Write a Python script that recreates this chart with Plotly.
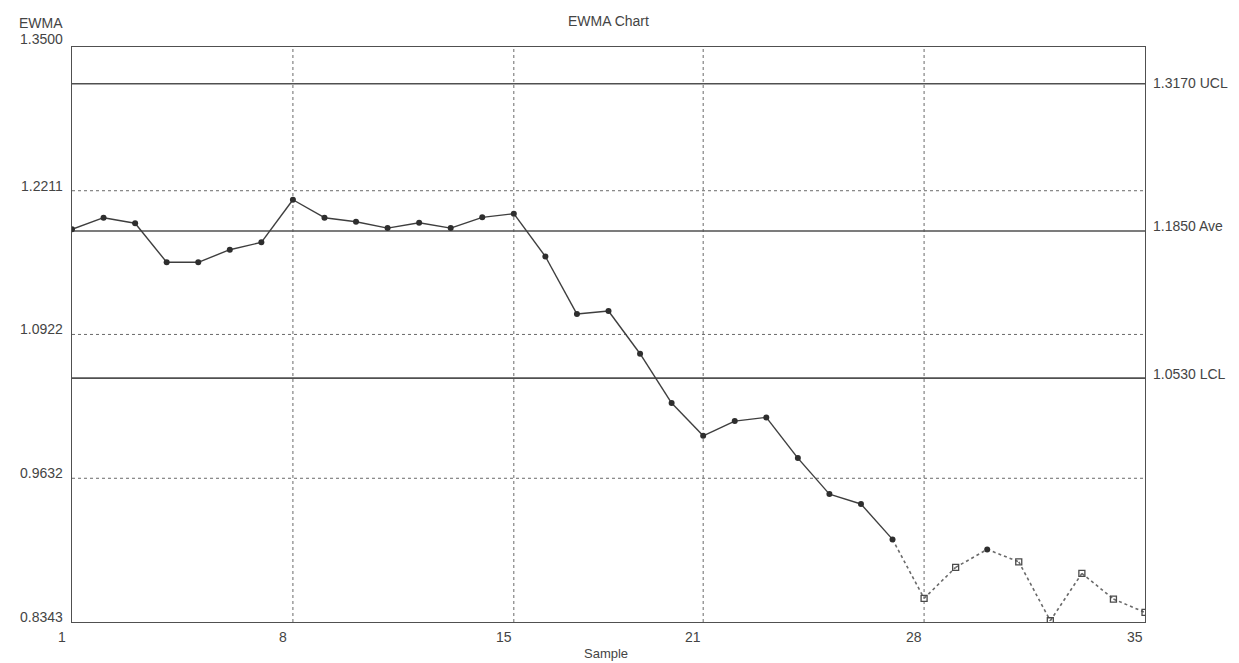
import plotly.graph_objects as go
import numpy as np

samples = list(range(1, 36))
ewma = [1.1865, 1.1969, 1.1919, 1.1569, 1.1569, 1.1682, 1.1748, 1.2130, 1.1969, 1.1933,
        1.1876, 1.1924, 1.1876, 1.1972, 1.2005, 1.1621, 1.1105, 1.1132, 1.0749, 1.0307,
        1.0013, 1.0145, 1.0178, 0.9813, 0.9490, 0.9401, 0.9084, 0.8555, 0.8833, 0.8994,
        0.8883, 0.8354, 0.8779, 0.8549, 0.8429]
# True = point drawn as an open square
open_pt = [False]*27 + [True, True, False, True, True, True, True, True]

ucl, ave, lcl = 1.3170, 1.1850, 1.0530
y_min, y_max = 0.8343, 1.3500
y_ticks = [1.3500, 1.2211, 1.0922, 0.9632, 0.8343]
y_grid = [1.2211, 1.0922, 0.9632]
x_ticks = [1, 8, 15, 21, 28, 35]
x_grid = [8, 15, 21, 28]
limit_lines = [(ucl, "1.3170 UCL"), (ave, "1.1850 Ave"), (lcl, "1.0530 LCL")]
limit_label_shift = [1, 5, 4]

LINE = "#3e3e3e"
TXT = "#444444"
FONT = "Liberation Sans, Arial, sans-serif"
FS = 14

x = np.array(samples, dtype=float)
y = np.array(ewma, dtype=float)
op = np.array(open_pt)

solid_x, solid_y, dot_x, dot_y = [], [], [], []
for i in range(len(x) - 1):
    if (not op[i]) and (not op[i + 1]):
        solid_x += [x[i], x[i + 1], None]
        solid_y += [y[i], y[i + 1], None]
    else:
        dot_x += [x[i], x[i + 1], None]
        dot_y += [y[i], y[i + 1], None]

fig = go.Figure()
fig.add_trace(go.Scatter(x=solid_x, y=solid_y, mode="lines",
                         line=dict(color=LINE, width=1.4), hoverinfo="skip"))
fig.add_trace(go.Scatter(x=dot_x, y=dot_y, mode="lines",
                         line=dict(color="#6a6a6a", width=1.6, dash="dot"), hoverinfo="skip"))
fig.add_trace(go.Scatter(x=x[~op], y=y[~op], mode="markers",
                         marker=dict(symbol="circle", size=6, color="#2e2e2e")))
fig.add_trace(go.Scatter(x=x[op], y=y[op], mode="markers",
                         marker=dict(symbol="square-open", size=6, color="#4a4a4a",
                                     line=dict(width=1.3))))

shapes = []
for gy in y_grid:
    shapes.append(dict(type="line", xref="paper", x0=0, x1=1, yref="y", y0=gy, y1=gy,
                       line=dict(color="#6a6a6a", width=1, dash="dot"), layer="below"))
for gx in x_grid:
    shapes.append(dict(type="line", yref="paper", y0=0, y1=1, xref="x", x0=gx, x1=gx,
                       line=dict(color="#6a6a6a", width=1, dash="dot"), layer="below"))
for val, _ in limit_lines:
    shapes.append(dict(type="line", xref="paper", x0=0, x1=1, yref="y", y0=val, y1=val,
                       line=dict(color="#505050", width=1.6), layer="below"))

font = dict(size=FS, color=TXT, family=FONT)
ann = []
for (val, lab), ys in zip(limit_lines, limit_label_shift):
    ann.append(dict(x=1, xref="paper", y=val, yref="y", text=lab, showarrow=False,
                    xanchor="left", yanchor="middle", xshift=6, yshift=ys, font=font))
for i, t in enumerate(y_ticks):
    ann.append(dict(x=0, xref="paper", y=t, yref="y", text=f"{t:.4f}", showarrow=False,
                    xanchor="right", yanchor="middle", xshift=-7,
                    yshift=8 if i == 0 else 5, font=font))
for t in x_ticks:
    ann.append(dict(x=t, xref="x", y=0, yref="paper", text=str(t), showarrow=False,
                    xanchor="center", yanchor="middle", xshift=-10, yshift=-15, font=font))
ann.append(dict(x=0, xref="paper", y=1, yref="paper", text="EWMA", showarrow=False,
                xanchor="right", yanchor="middle", xshift=-7, yshift=24, font=font))
ann.append(dict(x=0.5, xref="paper", y=1, yref="paper", text="EWMA Chart", showarrow=False,
                xanchor="center", yanchor="middle", xshift=0, yshift=26, font=font))
ann.append(dict(x=0.5, xref="paper", y=0, yref="paper", text="Sample", showarrow=False,
                xanchor="center", yanchor="middle", xshift=-3, yshift=-31,
                font=dict(size=13, color=TXT, family=FONT)))

# page body has an 8px margin, so the figure is sized 8px smaller than the window
fig.update_layout(
    width=1231, height=655,
    margin=dict(l=64, r=94, t=39, b=41),
    paper_bgcolor="white", plot_bgcolor="white",
    showlegend=False,
    shapes=shapes, annotations=ann,
    xaxis=dict(range=[1, 35], showgrid=False, zeroline=False, showticklabels=False,
               showline=True, linecolor="#505050", linewidth=1.4, mirror=True, ticks=""),
    yaxis=dict(range=[y_min, y_max], showgrid=False, zeroline=False, showticklabels=False,
               showline=True, linecolor="#505050", linewidth=1.4, mirror=True, ticks=""),
)

fig.write_html("out.html")
